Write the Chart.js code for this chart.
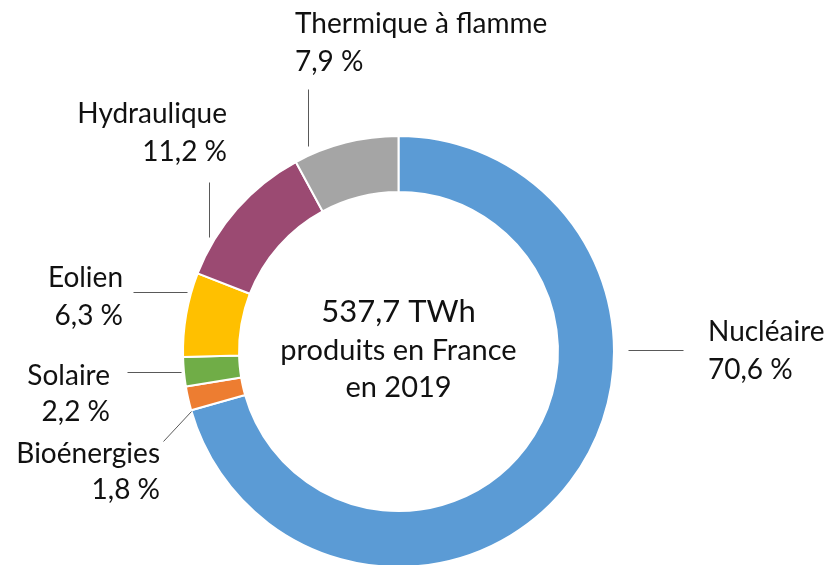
<!DOCTYPE html>
<html>
<head>
<meta charset="utf-8">
<script src="https://cdn.jsdelivr.net/npm/chart.js@4.4.1/dist/chart.umd.min.js"></script>
<style>
  html, body { margin: 0; padding: 0; background: #fff; overflow: hidden; }
  #wrap { width: 828px; height: 575px; }
</style>
</head>
<body>
<div id="wrap"><canvas id="c" width="828" height="575"></canvas></div>
<script>
const categories = ["Nucléaire", "Bioénergies", "Solaire", "Eolien", "Hydraulique", "Thermique à flamme"];
const shares = [70.6, 1.8, 2.2, 6.3, 11.2, 7.9];
const colors = ["#5B9BD5", "#ED7D31", "#70AD47", "#FFC000", "#9B4A72", "#A5A5A5"];
const centerLines = ["537,7 TWh", "produits en France", "en 2019"];

const fmt = v => v.toFixed(1).replace('.', ',') + ' %';

const labelLayout = {
  "Nucléaire":          { x: 708, y1: 341, y2: 379, align: 'left',  line: [[628, 350], [683, 350]] },
  "Bioénergies":        { x: 160, y1: 463, y2: 499, align: 'right', line: [[163, 441], [191, 411]] },
  "Solaire":            { x: 110, y1: 385, y2: 421, align: 'right', line: [[127, 372], [181, 372]] },
  "Eolien":             { x: 123, y1: 287, y2: 325, align: 'right', line: [[133, 292], [187, 292]] },
  "Hydraulique":        { x: 227, y1: 123, y2: 161, align: 'right', line: [[209, 182], [209, 237]] },
  "Thermique à flamme": { x: 295, y1: 33,  y2: 71,  align: 'left',  line: [[308, 89], [308, 146]] }
};

const FONT = "Lato, 'Open Sans', sans-serif";

const labelPlugin = {
  id: 'labels',
  afterDraw(chart) {
    const ctx = chart.ctx;
    ctx.save();
    ctx.fillStyle = '#111111';
    ctx.textBaseline = 'alphabetic';
    categories.forEach((name, i) => {
      const L = labelLayout[name];
      ctx.font = "28px " + FONT;
      ctx.textAlign = L.align;
      ctx.fillText(name, L.x, L.y1);
      ctx.fillText(fmt(shares[i]), L.x, L.y2);
      ctx.strokeStyle = '#595959';
      ctx.lineWidth = 1;
      ctx.beginPath();
      ctx.moveTo(L.line[0][0] + 0.5, L.line[0][1] + 0.5);
      ctx.lineTo(L.line[1][0] + 0.5, L.line[1][1] + 0.5);
      ctx.stroke();
    });
    const meta = chart.getDatasetMeta(0).data[0];
    const cx = meta.x;
    ctx.textAlign = 'center';
    ctx.font = "31px " + FONT;
    ctx.fillText(centerLines[0], cx, 322);
    ctx.font = "29px " + FONT;
    ctx.fillText(centerLines[1], cx, 360);
    ctx.fillText(centerLines[2], cx, 397);
    ctx.restore();
  }
};

new Chart(document.getElementById('c'), {
  type: 'doughnut',
  data: {
    labels: categories,
    datasets: [{
      data: shares,
      backgroundColor: colors,
      borderColor: '#ffffff',
      borderWidth: 2
    }]
  },
  options: {
    responsive: false,
    animation: false,
    cutout: '74%',
    layout: { padding: { left: 182, right: 213, top: 135, bottom: 7 } },
    plugins: { legend: { display: false }, tooltip: { enabled: false } }
  },
  plugins: [labelPlugin]
});
</script>
</body>
</html>
